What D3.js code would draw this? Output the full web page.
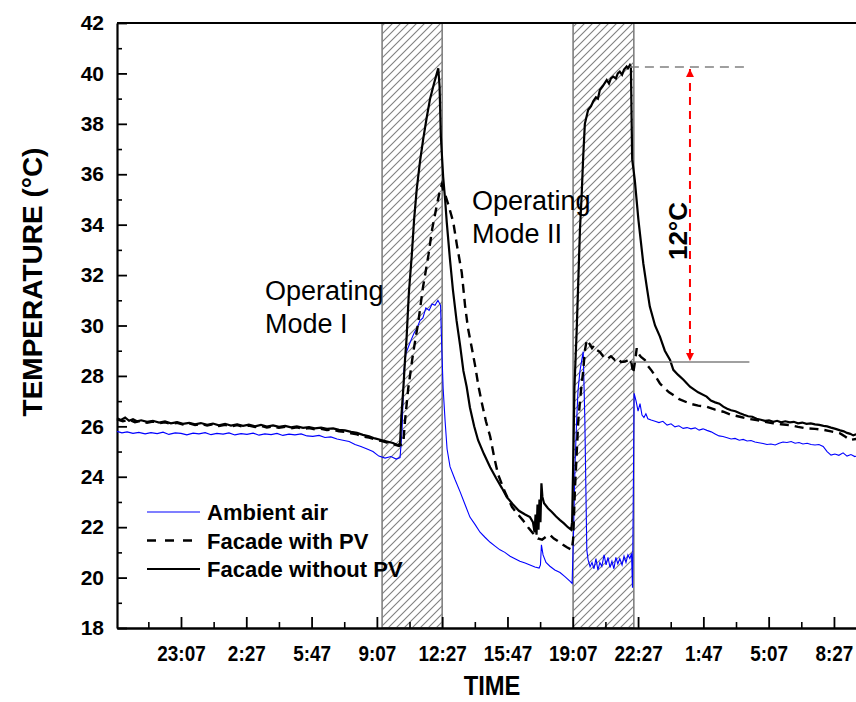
<!DOCTYPE html>
<html>
<head>
<meta charset="utf-8">
<script src="https://cdn.jsdelivr.net/npm/d3@7"></script>
<style>
  body { margin: 0; background: #fff; }
  text { font-family: "Liberation Sans", Arial, sans-serif; }
</style>
</head>
<body>
<svg id="chart" width="856" height="702"></svg>
<script>
// Time values are minutes elapsed since 19:51 on the first evening.
const startClock = 19 * 60 + 51;

const ambientAir = [
  [0,25.80],[15,25.74],[31,25.78],[49,25.72],[67,25.76],[86,25.70],[104,25.75],[123,25.71],[141,25.77],[159,25.68],
  [178,25.74],[196,25.72],[214,25.66],[233,25.73],[251,25.70],[270,25.75],[288,25.67],[306,25.72],[325,25.69],[343,25.74],
  [361,25.66],[380,25.71],[398,25.68],[417,25.73],[435,25.65],[453,25.70],[472,25.67],[490,25.72],[508,25.64],[527,25.69],
  [545,25.66],[564,25.70],[582,25.62],[600,25.60],[619,25.64],[637,25.56],[655,25.58],[674,25.50],[692,25.45],[711,25.40],
  [729,25.28],[747,25.20],[766,25.10],[784,25.00],[802,24.82],[821,24.74],[839,24.80],[855,24.70],[867,24.76],[873,25.8],
  [879,28.2],[885,28.9],[891,29.1],[900,29.4],[910,29.7],[919,29.9],[928,30.2],[937,30.3],[946,30.7],[956,30.6],
  [965,30.85],[974,30.8],[983,31.0],[991,30.8],[995,29.0],[999,27.5],[1005,26.2],[1011,25.1],[1020,24.4],[1035,23.9],
  [1051,23.4],[1066,22.9],[1081,22.4],[1097,22.1],[1112,21.8],[1127,21.6],[1143,21.4],[1158,21.25],[1173,21.1],[1188,21.0],
  [1204,20.85],[1219,20.75],[1234,20.65],[1250,20.58],[1265,20.5],[1280,20.42],[1293,20.38],[1297,20.5],[1300,21.3],[1305,20.9],
  [1314,20.6],[1326,20.45],[1341,20.3],[1357,20.2],[1372,20.04],[1388,19.85],[1394,19.77],[1398,21.6],[1403,24.5],[1408,26.25],
  [1412,27.4],[1418,28.2],[1428,28.96],[1433,26.25],[1439,21.1],[1443,20.7],[1449,20.43],[1455,20.6],[1461,20.35],[1467,20.75],
  [1473,20.3],[1479,20.6],[1485,20.45],[1492,20.9],[1498,20.5],[1504,20.8],[1510,20.4],[1516,20.65],[1522,20.35],[1528,20.8],
  [1534,20.55],[1540,20.75],[1547,20.5],[1553,20.85],[1559,20.6],[1565,20.9],[1571,20.75],[1576,20.96],[1579,19.6],[1584,27.31],
  [1590,27.0],[1596,26.6],[1602,26.9],[1608,26.45],[1614,26.35],[1620,26.5],[1626,26.3],[1636,26.25],[1648,26.2],[1660,26.15],
  [1672,26.2],[1685,26.05],[1697,26.1],[1709,25.98],[1721,26.02],[1734,25.92],[1746,25.95],[1758,25.9],[1771,25.94],[1783,25.85],
  [1795,25.9],[1807,25.84],[1820,25.78],[1832,25.7],[1844,25.62],[1856,25.6],[1869,25.55],[1881,25.5],[1893,25.52],[1906,25.45],
  [1918,25.48],[1930,25.42],[1942,25.44],[1954,25.38],[1966,25.35],[1979,25.32],[1991,25.28],[2003,25.3],[2016,25.26],[2028,25.33],
  [2040,25.38],[2052,25.36],[2065,25.4],[2077,25.33],[2089,25.36],[2101,25.3],[2114,25.33],[2126,25.28],[2138,25.26],[2150,25.28],
  [2163,25.2],[2175,25.0],[2187,24.86],[2199,24.9],[2211,24.85],[2224,24.95],[2236,24.82],[2248,24.88],[2260,24.8],[2275,24.85]
];

const facadeWithPV = [
  [0,26.28],[18,26.2],[37,26.26],[55,26.16],[74,26.22],[92,26.14],[110,26.19],[129,26.12],[147,26.16],[165,26.09],
  [184,26.14],[202,26.07],[221,26.12],[239,26.05],[257,26.1],[276,26.03],[294,26.08],[312,26.01],[331,26.06],[349,26.0],
  [368,26.05],[386,25.98],[404,26.03],[423,25.97],[441,26.02],[459,25.95],[478,26.0],[496,25.94],[515,25.98],[533,25.92],
  [551,25.96],[570,25.9],[588,25.93],[606,25.88],[625,25.9],[643,25.85],[662,25.87],[680,25.8],[698,25.78],[717,25.72],
  [735,25.68],[753,25.6],[772,25.55],[790,25.48],[809,25.42],[827,25.36],[845,25.3],[864,25.22],[877,25.33],[882,26.2],
  [892,27.5],[907,28.9],[923,30.15],[937,31.5],[954,32.8],[965,33.8],[980,34.8],[990,35.4],[995,35.6],[1000,35.3],
  [1005,35.2],[1017,34.7],[1030,34.1],[1041,33.2],[1056,32.1],[1066,30.8],[1075,29.9],[1086,29.16],[1097,28.4],[1107,27.6],
  [1118,26.9],[1130,26.2],[1143,25.6],[1155,24.8],[1167,24.1],[1188,23.4],[1210,22.8],[1225,22.55],[1243,22.28],[1259,22.0],
  [1274,21.76],[1289,21.55],[1302,21.5],[1314,21.62],[1326,21.7],[1338,21.55],[1350,21.45],[1366,21.3],[1378,21.2],[1393,21.1],
  [1397,21.5],[1403,23.6],[1413,26.25],[1421,27.4],[1428,28.2],[1433,29.0],[1439,29.43],[1446,29.3],[1455,29.1],[1461,29.2],
  [1469,29.03],[1479,28.95],[1488,28.8],[1495,28.83],[1504,28.7],[1513,28.78],[1525,28.63],[1534,28.7],[1544,28.55],[1556,28.57],
  [1565,28.62],[1571,28.7],[1576,28.5],[1581,28.1],[1587,28.6],[1592,29.1],[1596,28.9],[1605,28.75],[1617,28.63],[1626,28.4],
  [1638,28.2],[1651,27.95],[1663,27.7],[1678,27.5],[1691,27.35],[1704,27.24],[1722,27.08],[1755,26.9],[1780,26.82],[1806,26.78],
  [1832,26.66],[1857,26.58],[1881,26.46],[1908,26.38],[1933,26.3],[1959,26.25],[1985,26.18],[2010,26.12],[2034,26.08],[2061,26.05],
  [2086,25.98],[2112,25.92],[2138,25.9],[2164,25.86],[2187,25.8],[2215,25.72],[2230,25.6],[2245,25.46],[2264,25.5],[2280,25.48]
];

const facadeWithoutPV = [
  [0,26.32],[12,26.25],[25,26.35],[37,26.22],[49,26.28],[61,26.2],[74,26.24],[92,26.18],[110,26.22],[129,26.15],
  [147,26.2],[165,26.12],[184,26.17],[202,26.1],[221,26.14],[239,26.08],[257,26.13],[276,26.06],[294,26.11],[312,26.04],
  [331,26.1],[349,26.03],[368,26.08],[386,26.02],[404,26.07],[423,26.0],[441,26.06],[459,25.99],[478,26.04],[496,25.98],
  [515,26.02],[533,25.96],[551,26.0],[570,25.94],[588,25.97],[606,25.92],[625,25.95],[643,25.9],[662,25.92],[680,25.86],
  [698,25.84],[717,25.78],[735,25.74],[753,25.66],[772,25.6],[790,25.52],[809,25.46],[827,25.4],[845,25.34],[861,25.25],
  [867,25.33],[871,26.4],[877,27.5],[882,28.6],[887,29.5],[894,31.3],[903,32.8],[910,34.2],[918,35.4],[928,36.5],
  [938,37.4],[948,38.2],[959,39.0],[971,39.6],[984,40.2],[988,39.5],[992,37.5],[999,35.9],[1005,35.0],[1010,34.1],
  [1020,32.6],[1029,31.4],[1040,30.2],[1051,29.2],[1061,28.2],[1071,27.57],[1081,26.75],[1094,26.0],[1106,25.45],[1124,24.9],
  [1143,24.38],[1161,23.95],[1179,23.55],[1194,23.19],[1213,22.9],[1231,22.65],[1250,22.5],[1265,22.4],[1274,22.2],[1279,21.8],
  [1282,22.5],[1285,21.7],[1288,22.9],[1291,21.9],[1294,23.1],[1297,22.2],[1300,23.74],[1303,23.2],[1308,22.95],[1320,22.75],
  [1332,22.6],[1345,22.42],[1357,22.28],[1369,22.15],[1381,22.0],[1391,21.9],[1394,22.2],[1398,25.0],[1401,27.5],[1408,29.8],
  [1413,31.8],[1418,33.8],[1423,35.1],[1428,36.7],[1433,38.0],[1443,38.55],[1452,38.7],[1459,38.9],[1467,39.05],[1473,39.0],
  [1479,39.34],[1488,39.5],[1500,39.74],[1507,39.6],[1513,39.8],[1520,39.87],[1528,39.8],[1534,40.0],[1540,40.07],[1547,39.95],
  [1553,40.15],[1561,40.27],[1565,40.2],[1571,40.33],[1574,40.25],[1578,36.6],[1586,35.77],[1597,34.2],[1612,32.47],[1623,31.5],
  [1632,30.75],[1648,30.0],[1663,29.56],[1678,29.0],[1694,28.63],[1704,28.24],[1718,28.05],[1735,27.85],[1755,27.57],[1780,27.35],
  [1806,27.18],[1819,27.02],[1832,26.95],[1845,26.9],[1857,26.78],[1869,26.7],[1881,26.64],[1894,26.6],[1908,26.52],[1920,26.46],
  [1933,26.4],[1946,26.38],[1959,26.3],[1972,26.26],[1985,26.22],[1997,26.24],[2010,26.18],[2022,26.22],[2034,26.16],[2047,26.2],
  [2061,26.16],[2073,26.18],[2086,26.12],[2099,26.15],[2112,26.1],[2125,26.12],[2138,26.08],[2151,26.06],[2164,26.02],[2175,26.0],
  [2187,25.95],[2201,25.9],[2215,25.84],[2226,25.8],[2236,25.74],[2246,25.7],[2255,25.64],[2264,25.68],[2280,25.62]
];

// Axis ticks: labelled every 200 min starting at 23:07, minor ticks halfway between
const majorTicks = [196, 396, 596, 796, 996, 1196, 1396, 1596, 1796, 1996, 2196];
const minorTicks = [96, 296, 496, 696, 896, 1096, 1296, 1496, 1696, 1896, 2096, 2296];
const tickLabels = ["23:07", "2:27", "5:47", "9:07", "12:27", "15:47", "19:07", "22:27", "1:47", "5:07", "8:27"];
const yMajorTicks = [18, 20, 22, 24, 26, 28, 30, 32, 34, 36, 38, 40, 42];
const yMinorTicks = [19, 21, 23, 25, 27, 29, 31, 33, 35, 37, 39, 41];

// Operating periods (shaded) and their labels
const modeWindows = [[812, 996], [1397, 1583]];
const modeLabels = [["Operating", "Mode I"], ["Operating", "Mode II"]];

// Temperature gap marked between the two facades
const gapTop = 40.25, gapBottom = 28.55, gapLabel = "12°C";
const gapTime = 1755, gapLineStart = 1571, gapLineEnd = 1925, gapBaseEnd = 1937;

const seriesNames = ["Ambient air", "Facade with PV", "Facade without PV"];

const svg = d3.select("#chart");
const plotLeft = 117, plotTop = 23, plotBottom = 628;

const x = d3.scaleLinear().domain([0, 2300]).range([plotLeft, plotLeft + 2300 * 0.32648]);
const y = d3.scaleLinear().domain([18, 42]).range([plotBottom, plotTop]);

// hatch pattern
const defs = svg.append("defs");
const pat = defs.append("pattern")
  .attr("id", "hatch").attr("patternUnits", "userSpaceOnUse")
  .attr("width", 8).attr("height", 8);
pat.append("path").attr("d", "M-2,2 L2,-2 M0,8 L8,0 M6,10 L10,6")
  .attr("stroke", "#808080").attr("stroke-width", 1.1);

svg.append("rect").attr("width", 856).attr("height", 702).attr("fill", "#fff");

// shaded operating windows
svg.append("g").selectAll("rect").data(modeWindows).join("rect")
  .attr("x", d => x(d[0])).attr("y", plotTop)
  .attr("width", d => x(d[1]) - x(d[0])).attr("height", plotBottom - plotTop)
  .attr("fill", "url(#hatch)").attr("stroke", "#808080").attr("stroke-width", 1.6);

// axes
const xMinor = d3.axisBottom(x).tickValues(minorTicks).tickSize(-6).tickSizeOuter(0).tickFormat("");
const xMajor = d3.axisBottom(x).tickValues(majorTicks).tickSize(-11).tickSizeOuter(0).tickPadding(17)
  .tickFormat((d, i) => tickLabels[i]);
svg.append("g").attr("transform", `translate(0,${plotBottom})`).call(xMinor)
  .call(g => g.select(".domain").remove())
  .call(g => g.selectAll("line").attr("stroke", "#000").attr("stroke-width", 1.6));
const gx = svg.append("g").attr("transform", `translate(0,${plotBottom})`).call(xMajor);
gx.select(".domain").attr("stroke", "#000").attr("stroke-width", 2.4);
gx.selectAll("line").attr("stroke", "#000").attr("stroke-width", 1.8);
gx.selectAll("text").attr("font-size", 22).attr("font-weight", "bold").attr("fill", "#000")
  .attr("transform", "scale(0.86,1)");

const yMinor = d3.axisLeft(y).tickValues(yMinorTicks).tickSize(-5).tickSizeOuter(0).tickFormat("");
const yMajor = d3.axisLeft(y).tickValues(yMajorTicks).tickSize(-10).tickSizeOuter(0).tickPadding(13);
svg.append("g").attr("transform", `translate(${plotLeft},0)`).call(yMinor)
  .call(g => g.select(".domain").remove())
  .call(g => g.selectAll("line").attr("stroke", "#000").attr("stroke-width", 1.6));
const gy = svg.append("g").attr("transform", `translate(${plotLeft},0)`).call(yMajor);
gy.select(".domain").attr("stroke", "#000").attr("stroke-width", 2.2);
gy.selectAll("line").attr("stroke", "#000").attr("stroke-width", 1.8);
gy.selectAll("text").attr("font-size", 21).attr("font-weight", "bold").attr("fill", "#000");

// top frame line
svg.append("line").attr("x1", plotLeft).attr("x2", x(2300)).attr("y1", plotTop).attr("y2", plotTop)
  .attr("stroke", "#000").attr("stroke-width", 2);

// series
const line = d3.line().x(d => x(d[0])).y(d => y(d[1]));
svg.append("path").datum(ambientAir).attr("d", line)
  .attr("fill", "none").attr("stroke", "#0000ff").attr("stroke-width", 1.1);
svg.append("path").datum(facadeWithPV).attr("d", line)
  .attr("fill", "none").attr("stroke", "#000").attr("stroke-width", 2.4).attr("stroke-dasharray", "9,6");
svg.append("path").datum(facadeWithoutPV).attr("d", line)
  .attr("fill", "none").attr("stroke", "#000").attr("stroke-width", 2.2);

// temperature gap annotation
svg.append("line").attr("x1", x(gapLineStart)).attr("x2", x(gapLineEnd))
  .attr("y1", y(gapTop)).attr("y2", y(gapTop))
  .attr("stroke", "#808080").attr("stroke-width", 1.5).attr("stroke-dasharray", "9,6");
svg.append("line").attr("x1", x(gapLineStart + 4)).attr("x2", x(gapBaseEnd))
  .attr("y1", y(gapBottom)).attr("y2", y(gapBottom))
  .attr("stroke", "#808080").attr("stroke-width", 1.6);
defs.append("marker").attr("id", "redhead").attr("viewBox", "0 0 10 10")
  .attr("refX", 10).attr("refY", 5).attr("markerWidth", 4).attr("markerHeight", 4)
  .attr("orient", "auto-start-reverse")
  .append("path").attr("d", "M0,0 L10,5 L0,10 z").attr("fill", "#ff0000");
svg.append("line").attr("x1", x(gapTime)).attr("x2", x(gapTime))
  .attr("y1", y(gapTop) + 2).attr("y2", y(gapBottom) - 1)
  .attr("stroke", "#ff0000").attr("stroke-width", 2).attr("stroke-dasharray", "8,6")
  .attr("marker-start", "url(#redhead)").attr("marker-end", "url(#redhead)");
svg.append("text").attr("transform", `translate(687,231) rotate(-90)`)
  .attr("text-anchor", "middle").attr("font-size", 26).attr("font-weight", "bold").text(gapLabel);

// operating mode labels
const modeLabelPos = [[265, 300], [472, 210]];
modeLabels.forEach((lines, i) => {
  const t = svg.append("text").attr("x", modeLabelPos[i][0]).attr("y", modeLabelPos[i][1])
    .attr("font-size", 27).attr("fill", "#000");
  lines.forEach((s, j) => t.append("tspan").attr("x", modeLabelPos[i][0]).attr("dy", j ? 33 : 0).text(s));
});

// legend
const legendStyles = [
  { stroke: "#0000ff", width: 1.1, dash: null },
  { stroke: "#000", width: 2.4, dash: "9,9" },
  { stroke: "#000", width: 2.2, dash: null }
];
const legend = svg.append("g");
seriesNames.forEach((name, i) => {
  const yy = 512 + i * 28.5;
  legend.append("line").attr("x1", 147).attr("x2", 200).attr("y1", yy).attr("y2", yy)
    .attr("stroke", legendStyles[i].stroke).attr("stroke-width", legendStyles[i].width)
    .attr("stroke-dasharray", legendStyles[i].dash);
  legend.append("text").attr("x", 207).attr("y", yy + 8).attr("font-size", 22)
    .attr("font-weight", "bold").text(name);
});

// axis titles
svg.append("text").attr("transform", "translate(492,695) scale(0.88,1)")
  .attr("text-anchor", "middle").attr("font-size", 27).attr("font-weight", "bold").text("TIME");
svg.append("text").attr("transform", "translate(42,282) rotate(-90)")
  .attr("text-anchor", "middle").attr("font-size", 28).attr("font-weight", "bold")
  .text("TEMPERATURE (°C)");
</script>
</body>
</html>
